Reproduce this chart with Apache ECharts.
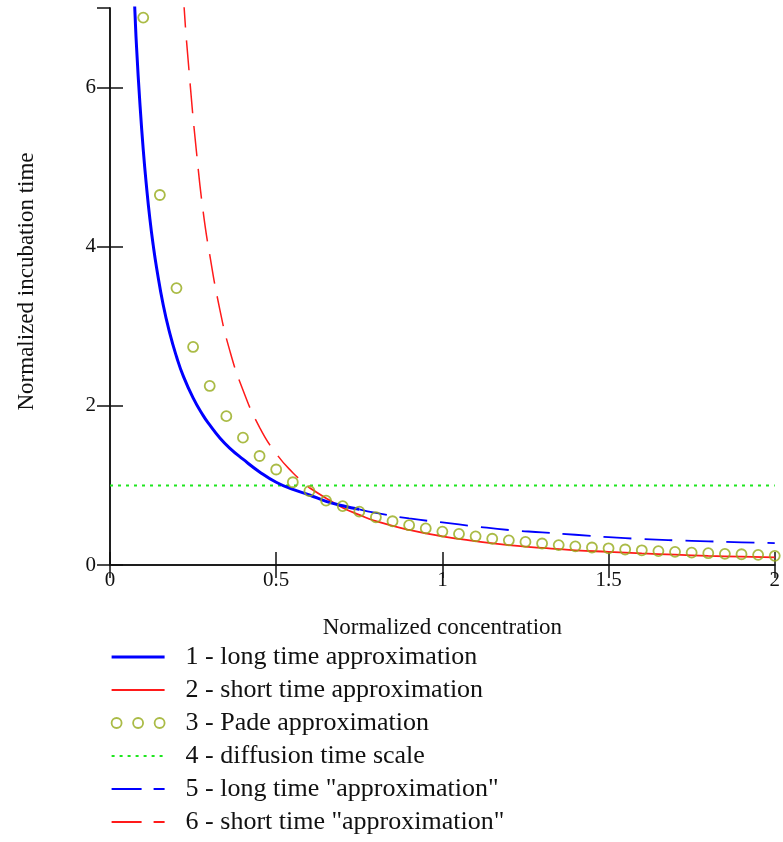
<!DOCTYPE html>
<html>
<head>
<meta charset="utf-8">
<script src="https://cdn.jsdelivr.net/npm/echarts@6/dist/echarts.min.js"></script>
<style>
html,body{margin:0;padding:0;background:#fff;}
#chart{width:783px;height:842px;}
</style>
</head>
<body>
<div id="chart"></div>
<script>
// ---- data ----
// 1 - long time approximation (solid blue)
var longX  = [0.07, 0.075, 0.08, 0.09, 0.10, 0.11, 0.12, 0.13, 0.14, 0.16, 0.18, 0.20, 0.22, 0.25, 0.28, 0.30, 0.33, 0.36, 0.40, 0.45, 0.50, 0.55, 0.60, 0.65, 0.70, 0.75];
var longY  = [7.45, 6.95, 6.50, 5.80, 5.22, 4.75, 4.35, 4.02, 3.74, 3.27, 2.91, 2.62, 2.38, 2.10, 1.88, 1.76, 1.60, 1.47, 1.33, 1.17, 1.04, 0.95, 0.88, 0.80, 0.745, 0.70];
// 5 - long time "approximation" (dashed blue)
var longDX = [0.75, 0.80, 0.90, 1.00, 1.10, 1.20, 1.30, 1.40, 1.50, 1.60, 1.70, 1.80, 1.90, 2.00];
var longDY = [0.70, 0.655, 0.585, 0.535, 0.485, 0.44, 0.41, 0.38, 0.35, 0.327, 0.31, 0.297, 0.285, 0.275];
// 6 - short time "approximation" (dashed red)
var shortDX = [0.20, 0.22, 0.24, 0.26, 0.28, 0.30, 0.33, 0.36, 0.40, 0.45, 0.50, 0.55, 0.60];
var shortDY = [8.75, 7.20, 6.10, 5.20, 4.45, 3.90, 3.22, 2.70, 2.20, 1.73, 1.40, 1.16, 0.97];
// 2 - short time approximation (solid red)
var shortX = [0.60, 0.65, 0.70, 0.75, 0.80, 0.90, 1.00, 1.10, 1.20, 1.30, 1.40, 1.50, 1.60, 1.70, 1.80, 1.90, 2.00];
var shortY = [0.97, 0.84, 0.72, 0.63, 0.55, 0.44, 0.36, 0.30, 0.25, 0.215, 0.185, 0.165, 0.145, 0.13, 0.115, 0.105, 0.095];
// 3 - Pade approximation (circles)
var padeX = [0.10, 0.15, 0.20, 0.25, 0.30, 0.35, 0.40, 0.45, 0.50, 0.55, 0.60, 0.65, 0.70, 0.75, 0.80, 0.85, 0.90, 0.95, 1.00, 1.05, 1.10, 1.15, 1.20, 1.25, 1.30, 1.35, 1.40, 1.45, 1.50, 1.55, 1.60, 1.65, 1.70, 1.75, 1.80, 1.85, 1.90, 1.95, 2.00];
var padeY = [6.88, 4.65, 3.48, 2.74, 2.25, 1.87, 1.60, 1.37, 1.20, 1.04, 0.93, 0.81, 0.74, 0.67, 0.60, 0.55, 0.50, 0.46, 0.42, 0.39, 0.36, 0.33, 0.31, 0.29, 0.27, 0.25, 0.235, 0.22, 0.21, 0.195, 0.185, 0.175, 0.165, 0.155, 0.148, 0.14, 0.135, 0.128, 0.115];
// 4 - diffusion time scale (dotted green)
var diffX = [0, 2];
var diffY = [1, 1];

var legendNames = [
  '1 - long time approximation',
  '2 - short time approximation',
  '3 - Pade approximation',
  '4 - diffusion time scale',
  '5 - long time "approximation"',
  '6 - short time "approximation"'
];
var xTicks = {min: 0, max: 2, interval: 0.5};
var yTicks = {min: 0, max: 7, interval: 2};

function pairs(xs, ys) { return xs.map(function (x, i) { return [x, ys[i]]; }); }

var FONT = "'Liberation Serif', 'Times New Roman', serif";
var TXT = '#111';
var BLUE = '#0000ff', RED = '#ff1a1a', OLIVE = '#95aa18', GREEN = '#1ee61e';
var NOSYM = {color: 'rgba(0,0,0,0)', borderColor: 'rgba(0,0,0,0)', borderWidth: 0};

var axisLineStyle = {show: true, lineStyle: {color: '#111', width: 1.5}};
var tickStyle = {show: true, inside: true, length: 13, lineStyle: {color: '#111', width: 1.5}};

var chart = echarts.init(document.getElementById('chart'), null, {renderer: 'canvas'});
chart.setOption({
  animation: false,
  backgroundColor: '#fff',
  grid: {left: 110, right: 8, top: 8, bottom: 277, containLabel: false},
  xAxis: [{
    type: 'value', min: xTicks.min, max: xTicks.max, interval: xTicks.interval,
    position: 'bottom',
    name: 'Normalized concentration', nameLocation: 'middle', nameGap: 51,
    nameTextStyle: {fontFamily: FONT, fontSize: 23, color: TXT},
    axisLine: axisLineStyle, axisTick: tickStyle,
    axisLabel: {fontFamily: FONT, fontSize: 21, color: TXT, margin: 5},
    splitLine: {show: false}
  }, {
    type: 'value', min: xTicks.min, max: xTicks.max, interval: xTicks.interval,
    position: 'top',
    axisLine: axisLineStyle, axisTick: tickStyle,
    axisLabel: {show: false}, splitLine: {show: false}
  }],
  yAxis: [{
    type: 'value', min: yTicks.min, max: yTicks.max, interval: yTicks.interval,
    position: 'left',
    name: 'Normalized incubation time', nameLocation: 'middle', nameGap: 72,
    nameTextStyle: {fontFamily: FONT, fontSize: 23, color: TXT, padding: [0, 0, 0, 10]},
    axisLine: axisLineStyle, axisTick: tickStyle,
    axisLabel: {fontFamily: FONT, fontSize: 21, color: TXT, margin: 14, showMaxLabel: false},
    splitLine: {show: false}
  }, {
    type: 'value', min: yTicks.min, max: yTicks.max, interval: yTicks.interval,
    position: 'right',
    axisLine: axisLineStyle, axisTick: tickStyle,
    axisLabel: {show: false}, splitLine: {show: false}
  }],
  legend: {
    orient: 'vertical', left: 110, top: 643, padding: 0,
    itemWidth: 53, itemHeight: 14, itemGap: 5,
    selectedMode: false,
    textStyle: {fontFamily: FONT, fontSize: 26, color: TXT, lineHeight: 28, padding: [0, 0, 0, 16]},
    data: [
      {name: legendNames[0], itemStyle: NOSYM, lineStyle: {color: BLUE, width: 3.2}},
      {name: legendNames[1], itemStyle: NOSYM, lineStyle: {color: RED, width: 2}},
      {name: legendNames[2],
       icon: 'path://M0,5a5,5 0 1,0 10,0a5,5 0 1,0 -10,0ZM21.5,5a5,5 0 1,0 10,0a5,5 0 1,0 -10,0ZM43,5a5,5 0 1,0 10,0a5,5 0 1,0 -10,0Z',
       itemStyle: {color: 'rgba(0,0,0,0)', borderColor: OLIVE, borderWidth: 1.8}},
      {name: legendNames[3], itemStyle: NOSYM, lineStyle: {color: GREEN, width: 2, type: [3, 5]}},
      {name: legendNames[4], itemStyle: NOSYM, lineStyle: {color: BLUE, width: 2, type: [30, 12]}},
      {name: legendNames[5], itemStyle: NOSYM, lineStyle: {color: RED, width: 2, type: [30, 12]}}
    ]
  },
  series: [
    {name: legendNames[3], type: 'line', data: pairs(diffX, diffY), symbol: 'none',
     lineStyle: {color: GREEN, width: 2, type: [3, 5]}, itemStyle: {color: GREEN}, z: 1},
    {name: legendNames[4], type: 'line', data: pairs(longDX, longDY), symbol: 'none', smooth: true,
     lineStyle: {color: BLUE, width: 1.8, type: [28, 13]}, itemStyle: {color: BLUE}, z: 2},
    {name: legendNames[5], type: 'line', data: pairs(shortDX, shortDY), symbol: 'none', smooth: true,
     lineStyle: {color: RED, width: 1.5, type: [30, 13]}, itemStyle: {color: RED}, z: 2},
    {name: legendNames[1], type: 'line', data: pairs(shortX, shortY), symbol: 'none', smooth: true,
     lineStyle: {color: RED, width: 1.8}, itemStyle: {color: RED}, z: 3},
    {name: legendNames[0], type: 'line', data: pairs(longX, longY), symbol: 'none', smooth: true,
     lineStyle: {color: BLUE, width: 3}, itemStyle: {color: BLUE}, z: 4},
    {name: legendNames[2], type: 'scatter', data: pairs(padeX, padeY), symbol: 'circle', symbolSize: 10,
     itemStyle: {color: 'rgba(0,0,0,0)', borderColor: OLIVE, borderWidth: 1.8}, z: 5}
  ]
});
</script>
</body>
</html>
